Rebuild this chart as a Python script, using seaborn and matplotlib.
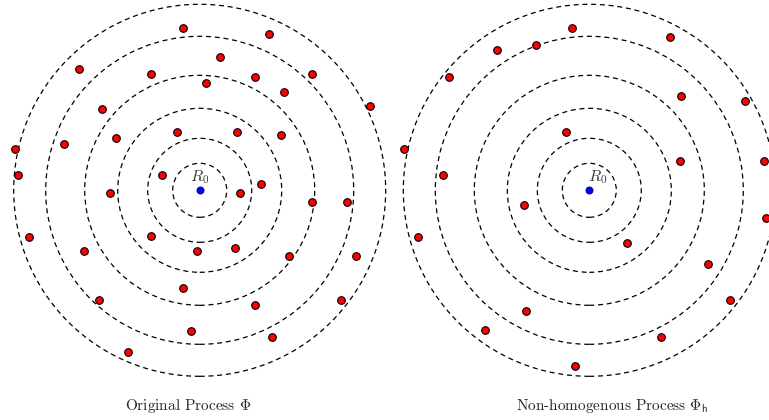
import matplotlib
matplotlib.use("Agg")
import matplotlib.pyplot as plt
import seaborn as sns
import pandas as pd
from matplotlib.patches import Circle

# ring radii (same for both panels)
radii = [27, 52, 82, 115, 154, 186]

# original process points, offsets from R0
orig_x = [-17, 69, 20, -121, -49, 55, 112, 6, 84, 170, -98, -84, -136, -185, -23,
          37, 81, -182, -38, 61, -90, 40, 112, 147, -171, -49, -116, -3, 35, 89,
          156, -17, -101, 55, 141, -9, 72, -72]
orig_y = [162, 156, 133, 121, 116, 113, 116, 107, 98, 84, 81, 52, 46, 41, 58,
          58, 55, 15, 15, 6, -3, -3, -12, -12, -47, -46, -61, -61, -58, -66,
          -66, -98, -110, -115, -110, -141, -147, -162]

# non-homogenous (thinned) process points
nh_x = [-17, 81, -92, -53, -140, 92, 156, -23, -185, 91, 175, -146, -65, 177,
        -171, 38, 119, 141, -63, -104, 72, -14]
nh_y = [162, 153, 140, 145, 113, 94, 89, 58, 41, 29, 29, 15, -15, -28,
        -47, -53, -74, -110, -121, -140, -147, -176]

captions = ["Original Process $\\Phi$", "Non-homogenous Process $\\Phi_{\\mathsf{h}}$"]

sns.set_style("white")
plt.rcParams["mathtext.fontset"] = "cm"
plt.rcParams["font.family"] = ["cmr10", "DejaVu Serif"]
plt.rcParams["axes.formatter.use_mathtext"] = True

W, H = 769, 420
fig = plt.figure(figsize=(W / 100, H / 100), dpi=100)

# panel layout in pixels: (left, width, centre x, centre y)
panels = [(0, 390, 199.7, 190.3), (390, 379, 589.3, 190.3)]
point_sets = [(orig_x, orig_y), (nh_x, nh_y)]
label_dx = [0, 8]

for (left, width, cx, cy), (px, py), ldx in zip(panels, point_sets, label_dx):
    ax = fig.add_axes([left / W, 0, width / W, 1])
    ax.set_xlim(left - cx, left + width - cx)
    ax.set_ylim(-(H - cy), cy)
    ax.set_aspect("equal")
    ax.axis("off")

    for r in radii:
        ax.add_patch(Circle((0, 0), r, fill=False, ls=(0, (4, 3)), lw=0.9,
                            ec="black"))

    df = pd.DataFrame({"x": px, "y": py})
    sns.scatterplot(data=df, x="x", y="y", ax=ax, color="#ff0000",
                    edgecolor="black", linewidth=0.8, s=30, zorder=3)
    sns.scatterplot(x=[0], y=[0], ax=ax, color="#0000ff", edgecolor="#000080",
                    linewidth=0.6, s=26, zorder=3)
    ax.text(ldx, 13, "$R_0$", ha="center", va="center", fontsize=11.5,
            color="#3a3a3a")

fig.text(188 / W, 1 - 406 / H, captions[0], ha="center", va="center", fontsize=11)
fig.text(612 / W, 1 - 406 / H, captions[1], ha="center", va="center", fontsize=11)

fig.savefig("out.png", dpi=100)
